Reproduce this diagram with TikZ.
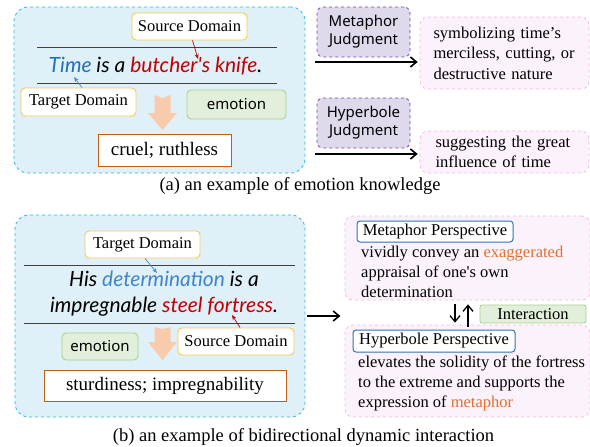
\documentclass[tikz,border=0pt]{standalone}
\usepackage{fontspec}
\setmainfont{Liberation Serif}
\newfontfamily\uifont{Noto Sans}
\newfontfamily\handfont{Lato}
\usetikzlibrary{arrows.meta,positioning}

\definecolor{panelline}{HTML}{2DB4E6}
\definecolor{panelfill}{HTML}{DFF0F8}
\definecolor{tagyellow}{HTML}{F7CB4D}
\definecolor{emoline}{HTML}{A9D18E}
\definecolor{emofill}{HTML}{E2EFDA}
\definecolor{outorange}{HTML}{C55A11}
\definecolor{peach}{HTML}{F8CBAD}
\definecolor{judgeline}{HTML}{7A3FB0}
\definecolor{judgefill}{HTML}{DEDAEC}
\definecolor{resline}{HTML}{F0B6E4}
\definecolor{resfill}{HTML}{FCF2FB}
\definecolor{perspblue}{HTML}{2E75B6}
\definecolor{tgtblue}{HTML}{1F6FC0}
\definecolor{srcred}{HTML}{C00000}
\definecolor{hiorange}{HTML}{E07030}
\definecolor{ruleline}{HTML}{404040}

\newcommand\serifsz{\fontsize{16.5}{20.5}\selectfont}
\newcommand\uisz{\uifont\fontsize{15}{18}\selectfont}
\newcommand\handsz{\handfont\itshape\fontsize{21}{26}\selectfont}
\newcommand\outsz{\fontsize{19}{22}\selectfont}

\begin{document}
\begin{tikzpicture}[x=1pt,y=-1pt,
    panel/.style={draw=panelline, dashed, fill=panelfill, rounded corners=14pt, line width=0.8pt},
    tagbox/.style={draw=tagyellow, fill=white, rounded corners=4pt, line width=0.9pt, font=\serifsz, inner sep=0pt},
    emobox/.style={draw=emoline, fill=emofill, rounded corners=4pt, line width=0.9pt, font=\uisz, inner sep=0pt},
    outbox/.style={draw=outorange, fill=white, line width=1pt, font=\outsz, inner sep=0pt},
    judgebox/.style={draw=judgeline, dashed, fill=judgefill, rounded corners=6pt, line width=0.8pt, align=center, font=\uisz, inner sep=0pt},
    resbox/.style={draw=resline, dashed, fill=resfill, rounded corners=8pt, line width=0.7pt, font=\serifsz, align=left},
    persp/.style={draw=perspblue, fill=white, rounded corners=3pt, line width=1pt, font=\serifsz, inner sep=0pt},
    bigarrow/.style={-{Straight Barb[length=6pt,width=10pt]}, line width=1.6pt},
    pointer/.style={-{Stealth[length=5pt,width=4pt]}, line width=0.7pt},
    rule/.style={ruleline, line width=1pt}]
  \useasboundingbox (0,0) rectangle (590,447);

  % (a) emotion knowledge
  \node[panel, minimum width=291pt, minimum height=166pt] (boxA) at (159.5,90) {};
  \draw[rule] (37,47) -- (277,47);
  \draw[rule] (37,83) -- (277,83);
  \node[font=\handsz] (sent1) at (155.5,66)
    {\textcolor{tgtblue}{Time} is a \textcolor{srcred}{butcher\textquotesingle s knife}.};
  \node[tagbox, minimum width=115pt, minimum height=27pt] (src1) at (189.5,26.5) {Source Domain};
  \node[tagbox, minimum width=115pt, minimum height=28pt] (tgt1) at (78.5,102) {Target Domain};
  \node[emobox, minimum width=99pt, minimum height=29pt] (emo1) at (236.5,104.5) {emotion};
  \node[outbox, minimum width=133pt, minimum height=32pt] (out1) at (164.5,150) {cruel; ruthless};
  \coordinate (butcher) at (198,59);
  \coordinate (time) at (74,77);
  \draw[pointer, srcred] ([xshift=3pt]src1.south) -- (butcher);
  \draw[pointer, tgtblue!80] ([xshift=3.5pt]tgt1.north) -- (time);
  \fill[peach, shift={(162.5,95)}] (-8,0) -- (0,3) -- (8,0) -- (8,18) -- (14.5,18)
    -- (0,35) -- (-14.5,18) -- (-8,18) -- cycle;

  \node[judgebox, minimum width=93pt, minimum height=50pt] (judge1) at (363.5,32) {Metaphor\\Judgment};
  \node[judgebox, minimum width=93pt, minimum height=50pt] (judge2) at (363.5,123) {Hyperbole\\Judgment};
  \node[resbox, minimum width=169pt, minimum height=72pt, text width=142pt] (res1) at (504.5,53)
    {symbolizing time's\\merciless, cutting, or\\destructive nature};
  \node[resbox, minimum width=169pt, minimum height=42pt, text width=138pt] (res2) at (504.5,152)
    {suggesting the great\\influence of time};
  \coordinate (j1) at (315,62);
  \coordinate (j2) at (315,154);
  \draw[bigarrow] (j1) -- ([xshift=-2pt]j1 -| res1.west);
  \draw[bigarrow] (j2) -- ([xshift=-2pt]j2 -| res2.west);

  \node[font=\fontsize{18.5}{22}\selectfont] (capA) at (300,186) {(a) an example of emotion knowledge};

  % (b) bidirectional dynamic interaction
  \node[panel, minimum width=290pt, minimum height=202pt] (boxB) at (160,316) {};
  \draw[rule] (24,265) -- (295,265);
  \draw[rule] (24,323) -- (295,323);
  \node[font=\handsz, align=center] (sent2) at (164,294)
    {His \textcolor{tgtblue!85}{determination} is a\\impregnable \textcolor{srcred}{steel fortress}.};
  \node[tagbox, minimum width=115pt, minimum height=27pt] (tgt2) at (142.5,244.5) {Target Domain};
  \node[tagbox, minimum width=116pt, minimum height=27pt] (src2) at (236,341.5) {Source Domain};
  \node[emobox, minimum width=76pt, minimum height=27pt] (emo2) at (100,346.5) {emotion};
  \node[outbox, minimum width=242pt, minimum height=31pt] (out2) at (165,385.5) {sturdiness; impregnability};
  \coordinate (determ) at (157,273);
  \coordinate (fortress) at (232,315);
  \draw[pointer, tgtblue!80] ([xshift=2.5pt]tgt2.south) -- (determ);
  \draw[pointer, srcred] ([xshift=4pt]src2.north) -- (fortress);
  \fill[peach, shift={(162.5,327)}] (-8,0) -- (0,2) -- (8,0) -- (8,15) -- (14.5,15)
    -- (0,33) -- (-14.5,15) -- (-8,15) -- cycle;

  \node[resbox, minimum width=245pt, minimum height=84pt] (pbox1) at (467.5,258) {};
  \node[resbox, minimum width=245pt, minimum height=92pt] (pbox2) at (467.5,371) {};
  \node[persp, minimum width=156pt, minimum height=21pt] (mp) at (435,231.5) {Metaphor Perspective};
  \node[font=\fontsize{16.5}{19.7}\selectfont, align=left, anchor=west, inner sep=0pt] (mptext) at (361,272)
    {vividly convey an \textcolor{hiorange}{exaggerated}\\appraisal of one\textquotesingle s own\\determination};
  \node[persp, minimum width=162pt, minimum height=22pt] (hp) at (434,341) {Hyperbole Perspective};
  \node[font=\fontsize{16.5}{20}\selectfont, align=left, anchor=west, inner sep=0pt] (hptext) at (358,383)
    {elevates the solidity of the fortress\\to the extreme and supports the\\expression of \textcolor{hiorange}{metaphor}};
  \node[emobox, font=\serifsz, minimum width=106pt, minimum height=18pt, rounded corners=2pt] (inter) at (533,314) {Interaction};
  \draw[bigarrow, line width=1.3pt] ([xshift=-12.5pt,yshift=-4pt]pbox1.south) -- ([xshift=-12.5pt,yshift=2pt]pbox2.north);
  \draw[bigarrow, line width=1.3pt] ([xshift=0.5pt,yshift=-2pt]pbox2.north) -- ([xshift=0.5pt,yshift=-4pt]pbox1.south);
  \draw[bigarrow] ([xshift=2pt]boxB.east) -- ++(33,0);

  \node[font=\fontsize{18.5}{22}\selectfont] (capB) at (303.5,437) {(b) an example of bidirectional dynamic interaction};
\end{tikzpicture}
\end{document}
